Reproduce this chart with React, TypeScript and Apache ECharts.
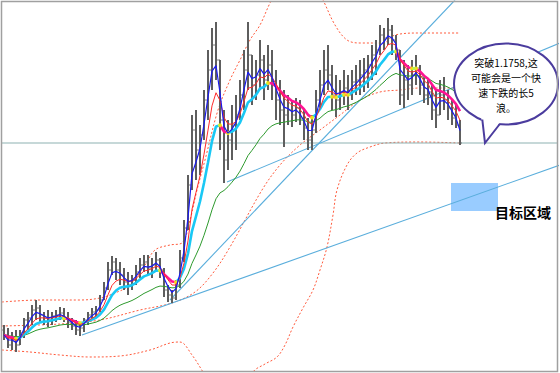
import { useEffect, useRef } from "react";
import * as echarts from "echarts";

// ---- OHLC bars (one per slot), prices ----
const highs = [
  1.0848, 1.0833, 1.0813, 1.0823, 1.0823, 1.0883, 1.0913, 1.0948, 1.0973, 1.0948,
  1.0913, 1.0923, 1.0913, 1.0923, 1.0938, 1.0933, 1.0913, 1.0883, 1.0873, 1.0863,
  1.0883, 1.0913, 1.0933, 1.0943, 1.0998,
  1.1063, 1.1163, 1.1193, 1.1183, 1.1163, 1.1133, 1.1113, 1.1098, 1.1148, 1.1183,
  1.1198, 1.1198, 1.1183, 1.1213, 1.1183, 1.1133, 1.1048, 1.1023, 1.1073, 1.1223,
  1.1373, 1.1598, 1.1898, 1.1923, 1.1848,
  1.2023, 1.2223, 1.2333, 1.2363, 1.2173, 1.1923, 1.1873, 1.1948, 1.1998, 1.2073,
  1.2223, 1.2363, 1.2198, 1.2173, 1.2273, 1.2198, 1.2248, 1.2223, 1.2123, 1.2073,
  1.2023, 1.1998, 1.1973, 1.1983, 1.1973,
  1.1923, 1.1883, 1.1898, 1.2023, 1.2123, 1.2223, 1.2248, 1.2148, 1.2098, 1.2073,
  1.2123, 1.2098, 1.2123, 1.2148, 1.2173, 1.2183, 1.2198, 1.2248, 1.2273, 1.2348,
  1.2333, 1.2383, 1.2348, 1.2298, 1.2223,
  1.2173, 1.2148, 1.2173, 1.2198, 1.2148, 1.2083, 1.2073, 1.2048, 1.2023, 1.2073,
  1.2088, 1.2023, 1.1973, 1.1948, 1.1873,
];
const lows = [
  1.0773, 1.0733, 1.0723, 1.0713, 1.0748, 1.0783, 1.0823, 1.0848, 1.0873, 1.0858,
  1.0848, 1.0838, 1.0848, 1.0863, 1.0873, 1.0863, 1.0833, 1.0823, 1.0798, 1.0793,
  1.0813, 1.0848, 1.0873, 1.0883, 1.0913,
  1.0973, 1.1023, 1.1098, 1.1073, 1.1048, 1.1023, 1.0998, 1.1023, 1.1048, 1.1083,
  1.1113, 1.1098, 1.1083, 1.1113, 1.1083, 1.0988, 1.0963, 1.0958, 1.0973, 1.1033,
  1.1163, 1.1323, 1.1523, 1.1573, 1.1598,
  1.1773, 1.1873, 1.2023, 1.2073, 1.1723, 1.1558, 1.1623, 1.1673, 1.1723, 1.1873,
  1.1923, 1.2023, 1.1948, 1.1973, 1.2023, 1.1973, 1.2023, 1.1973, 1.1873, 1.1848,
  1.1738, 1.1848, 1.1838, 1.1863, 1.1848,
  1.1773, 1.1723, 1.1723, 1.1808, 1.1923, 1.1998, 1.2023, 1.1923, 1.1888, 1.1923,
  1.1948, 1.1923, 1.1973, 1.1998, 1.1998, 1.2013, 1.2033, 1.2073, 1.2098, 1.2198,
  1.2223, 1.2248, 1.2198, 1.2173, 1.1948,
  1.1933, 1.1973, 1.1998, 1.2048, 1.1998, 1.1958, 1.1948, 1.1873, 1.1833, 1.1898,
  1.1923, 1.1873, 1.1848, 1.1833, 1.1748,
];
const closes = [
  1.0798, 1.0748, 1.0773, 1.0748, 1.0808, 1.0873, 1.0883, 1.0923, 1.0933, 1.0898,
  1.0883, 1.0873, 1.0893, 1.0898, 1.0908, 1.0883, 1.0863, 1.0843, 1.0823, 1.0833,
  1.0873, 1.0898, 1.0913, 1.0923, 1.0973,
  1.1033, 1.1123, 1.1163, 1.1123, 1.1098, 1.1063, 1.1048, 1.1073, 1.1113, 1.1148,
  1.1163, 1.1133, 1.1148, 1.1173, 1.1123, 1.1023, 1.0998, 1.0983, 1.1048, 1.1183,
  1.1333, 1.1548, 1.1823, 1.1723, 1.1798,
  1.1973, 1.2123, 1.2248, 1.2173, 1.1873, 1.1673, 1.1773, 1.1848, 1.1898, 1.1998,
  1.2123, 1.2198, 1.2048, 1.2098, 1.2173, 1.2073, 1.2148, 1.2048, 1.1973, 1.1923,
  1.1898, 1.1923, 1.1898, 1.1933, 1.1883,
  1.1833, 1.1773, 1.1823, 1.1973, 1.2048, 1.2123, 1.2098, 1.1998, 1.1973, 1.2013,
  1.2033, 1.1998, 1.2063, 1.2073, 1.2098, 1.2123, 1.2148, 1.2198, 1.2223, 1.2298,
  1.2283, 1.2323, 1.2273, 1.2223, 1.1998,
  1.2073, 1.2048, 1.2098, 1.2133, 1.2048, 1.1998, 1.2013, 1.1923, 1.1898, 1.1998,
  1.1973, 1.1933, 1.1883, 1.1848, 1.1758,
];
const firstOpen = 1.0823;

// ---- Bollinger-style envelope, read as [slot, price] ----
const upperBand = [
  [-0.5, 1.0963], [9, 1.0973], [19, 1.0973], [24, 1.0983], [27.75, 1.1008], [31.5, 1.1048],
  [35.25, 1.1148], [37.75, 1.1223], [41.5, 1.1248], [44.5, 1.1258], [46.5, 1.1373],
  [48.25, 1.1523], [50.25, 1.1673], [53.5, 1.1923], [56.5, 1.2073], [59, 1.2173],
  [61.5, 1.2273], [64, 1.2348], [66.5, 1.2458], [70.25, 1.2598], [74, 1.2648], [77, 1.2573],
  [79.75, 1.2473], [82.75, 1.2348], [85.75, 1.2273], [89, 1.2258], [94.75, 1.2258],
  [97.75, 1.2298], [104, 1.2308], [114, 1.2308],
];
const middleBand = [
  [-0.5, 1.0843], [14, 1.0853], [24, 1.0873], [34, 1.0923], [42, 1.0958], [47.75, 1.1013],
  [52.25, 1.1108], [56.5, 1.1238], [64.5, 1.1523], [69, 1.1648], [74, 1.1748], [79, 1.1823],
  [84, 1.1898], [89, 1.1973], [94, 1.2013], [99, 1.2023], [104, 1.2033], [114, 1.2033],
];
const lowerBand = [
  [-0.5, 1.0723], [6.5, 1.0713], [14, 1.0698], [21.5, 1.0688], [29, 1.0693], [36.5, 1.0723],
  [41.5, 1.0758], [44, 1.0763], [47, 1.0698], [49.75, 1.0613], [54, 1.0473], [58.25, 1.0448],
  [62.25, 1.0613], [65.25, 1.0653], [68.25, 1.0688], [70.25, 1.0748], [72.25, 1.0838],
  [74.75, 1.0933], [77.25, 1.1023], [79, 1.1123], [80.75, 1.1238], [82.25, 1.1398],
  [83.25, 1.1523], [85.75, 1.1648], [88.25, 1.1708], [91.5, 1.1738], [95.25, 1.1758],
  [104, 1.1763], [114, 1.1758],
];

// ---- trend lines, horizontal level, target zone ----
const trendLine1 = [[19.5, 1.0798], [139, 1.1648]];
const trendLine2 = [[41.5, 1.0973], [112.75, 1.2473]];
const trendLine3 = [[55.75, 1.1563], [139, 1.2258]];
const breakLevel = 1.1758;
const targetZone = [[111.75, 1.1558], [123.5, 1.1418]];

const bubbleLines = ["突破1.1758,这", "可能会是一个快", "速下跌的长5", "浪。"];
const targetLabel = "目标区域";

const X_MIN = -0.5;
const X_MAX = 138.25;

function ema(vals: number[], n: number) {
  const a = 2 / (n + 1);
  const out: number[] = [];
  let e = vals[0];
  vals.forEach((v, i) => {
    e = i === 0 ? v : a * v + (1 - a) * e;
    out.push(e);
  });
  return out;
}

function segments(vals: number[], rising: boolean) {
  const out: any[] = [];
  let open = false;
  for (let i = 1; i < vals.length; i++) {
    const up = vals[i] >= vals[i - 1];
    if (up === rising) {
      if (!open) out.push([i - 1, vals[i - 1]]);
      out.push([i, vals[i]]);
      open = true;
    } else if (open) {
      out.push(["-", "-"]);
      open = false;
    }
  }
  return out;
}

export default function App() {
  const ref = useRef<HTMLDivElement>(null);
  useEffect(() => {
    const chart = echarts.init(ref.current!, null, { renderer: "svg" });
    const ohlc = closes.map((c, i) => [i, i === 0 ? firstOpen : closes[i - 1], highs[i], lows[i], c]);
    const maFast = ema(closes, 3);
    const maMid = ema(closes, 6);
    const maThick = ema(closes, 10);
    const maSlow = ema(closes, 26);
    const turns: number[][] = [];
    for (let i = 1; i < maThick.length - 1; i++) {
      const a = maThick[i] - maThick[i - 1];
      const b = maThick[i + 1] - maThick[i];
      if ((a >= 0) !== (b >= 0)) turns.push([i, maThick[i]]);
    }
    const toPairs = (arr: number[]) => arr.map((v, i) => [i, v]);
    const band = (data: number[][]) => ({
      type: "line", data, symbol: "none", smooth: 0.35, z: 2, silent: true,
      lineStyle: { color: "#ff5a3c", width: 1, type: [2, 2] },
    });
    const trend = (data: number[][], color = "#5aaedc") => ({
      type: "line", data, symbol: "none", z: 3, silent: true,
      lineStyle: { color, width: 1.1 },
    });
    const ma = (data: any[], color: string, width: number, z = 5) => ({
      type: "line", data, symbol: "none", z, silent: true, connectNulls: false,
      lineStyle: { color, width },
    });

    const bubbleCx = 506, bubbleCy = 84;
    chart.setOption({
      animation: false,
      backgroundColor: "#ffffff",
      grid: { left: 2, top: 1, width: 555, height: 370, containLabel: false },
      xAxis: { type: "value", min: X_MIN, max: X_MAX, show: false, splitLine: { show: false } },
      yAxis: { type: "value", min: 1.0618, max: 1.2468, show: false, splitLine: { show: false } },
      series: [
        {
          type: "line", data: [], z: 1, silent: true,
          markArea: {
            silent: true,
            itemStyle: { color: "#99ccff", opacity: 1 },
            data: [[{ xAxis: targetZone[0][0], yAxis: targetZone[0][1] }, { xAxis: targetZone[1][0], yAxis: targetZone[1][1] }]],
          },
        },
        band(upperBand), band(middleBand), band(lowerBand),
        trend([[X_MIN, breakLevel], [X_MAX, breakLevel]], "#8db2b2"),
        trend(trendLine1),
        trend(trendLine2),
        trend(trendLine3),
        {
          type: "custom", data: ohlc, z: 4, silent: true,
          dimensions: ["i", "open", "high", "low", "close"],
          encode: { x: 0, y: [1, 2, 3, 4] },
          renderItem: (_p: any, api: any) => {
            const x = api.value(0);
            const o = api.coord([x, api.value(1)]);
            const h = api.coord([x, api.value(2)]);
            const l = api.coord([x, api.value(3)]);
            const c = api.coord([x, api.value(4)]);
            const col = "#5e5e5e";
            return {
              type: "group",
              children: [
                { type: "line", shape: { x1: h[0], y1: h[1], x2: l[0], y2: l[1] }, style: { stroke: col, lineWidth: 2 } },
                { type: "line", shape: { x1: o[0] - 1.8, y1: o[1], x2: o[0], y2: o[1] }, style: { stroke: col, lineWidth: 1 } },
                { type: "line", shape: { x1: c[0], y1: c[1], x2: c[0] + 1.8, y2: c[1] }, style: { stroke: col, lineWidth: 1 } },
              ],
            };
          },
        },
        ma(toPairs(maSlow), "#2e9a2e", 1, 5),
        ma(segments(maThick, true), "#19c8f5", 2.6, 6),
        ma(segments(maThick, false), "#ff1493", 2.6, 6),
        { type: "scatter", data: turns, symbolSize: 4, z: 7, silent: true, itemStyle: { color: "#ffff00" } },
        ma(toPairs(maMid), "#ff2a2a", 1, 8),
        ma(toPairs(maFast), "#1a1aee", 1.2, 9),
      ],
      graphic: [
        {
          type: "ellipse", z: 100,
          shape: { cx: bubbleCx, cy: bubbleCy, rx: 52, ry: 40.5 },
          style: { fill: "#ffffff", stroke: "#4b3c9e", lineWidth: 2 },
        },
        {
          type: "polygon", z: 101,
          shape: { points: [[481, 116], [485, 143], [501, 121]] },
          style: { fill: "#ffffff" },
        },
        {
          type: "polyline", z: 102,
          shape: { points: [[482.3, 119.5], [485, 143], [499.8, 124]] },
          style: { stroke: "#4b3c9e", lineWidth: 2, fill: "none" },
        },
        ...bubbleLines.map((t, k) => ({
          type: "text", z: 103,
          x: bubbleCx, y: 62 + k * 15,
          style: {
            text: t, fill: "#000000", align: "center", verticalAlign: "middle",
            font: '10px "Noto Sans CJK SC", sans-serif',
          },
        })),
        {
          type: "text", z: 103, x: 495, y: 212,
          style: {
            text: targetLabel, fill: "#000000", verticalAlign: "middle",
            font: 'bold 14px "Noto Sans CJK SC", sans-serif',
            shadowColor: "rgba(0,0,0,0.45)", shadowBlur: 3, shadowOffsetX: 2, shadowOffsetY: 2,
          },
        },
        {
          type: "rect", z: 110,
          shape: { x: 1.5, y: 1.5, width: 556, height: 370 },
          style: { fill: "none", stroke: "#a0a0a0", lineWidth: 1.5 },
        },
      ],
    });
    return () => chart.dispose();
  }, []);
  return (
    <div
      ref={ref}
      style={{ position: "fixed", left: 0, top: 0, width: 560, height: 373, background: "#fff" }}
    />
  );
}
